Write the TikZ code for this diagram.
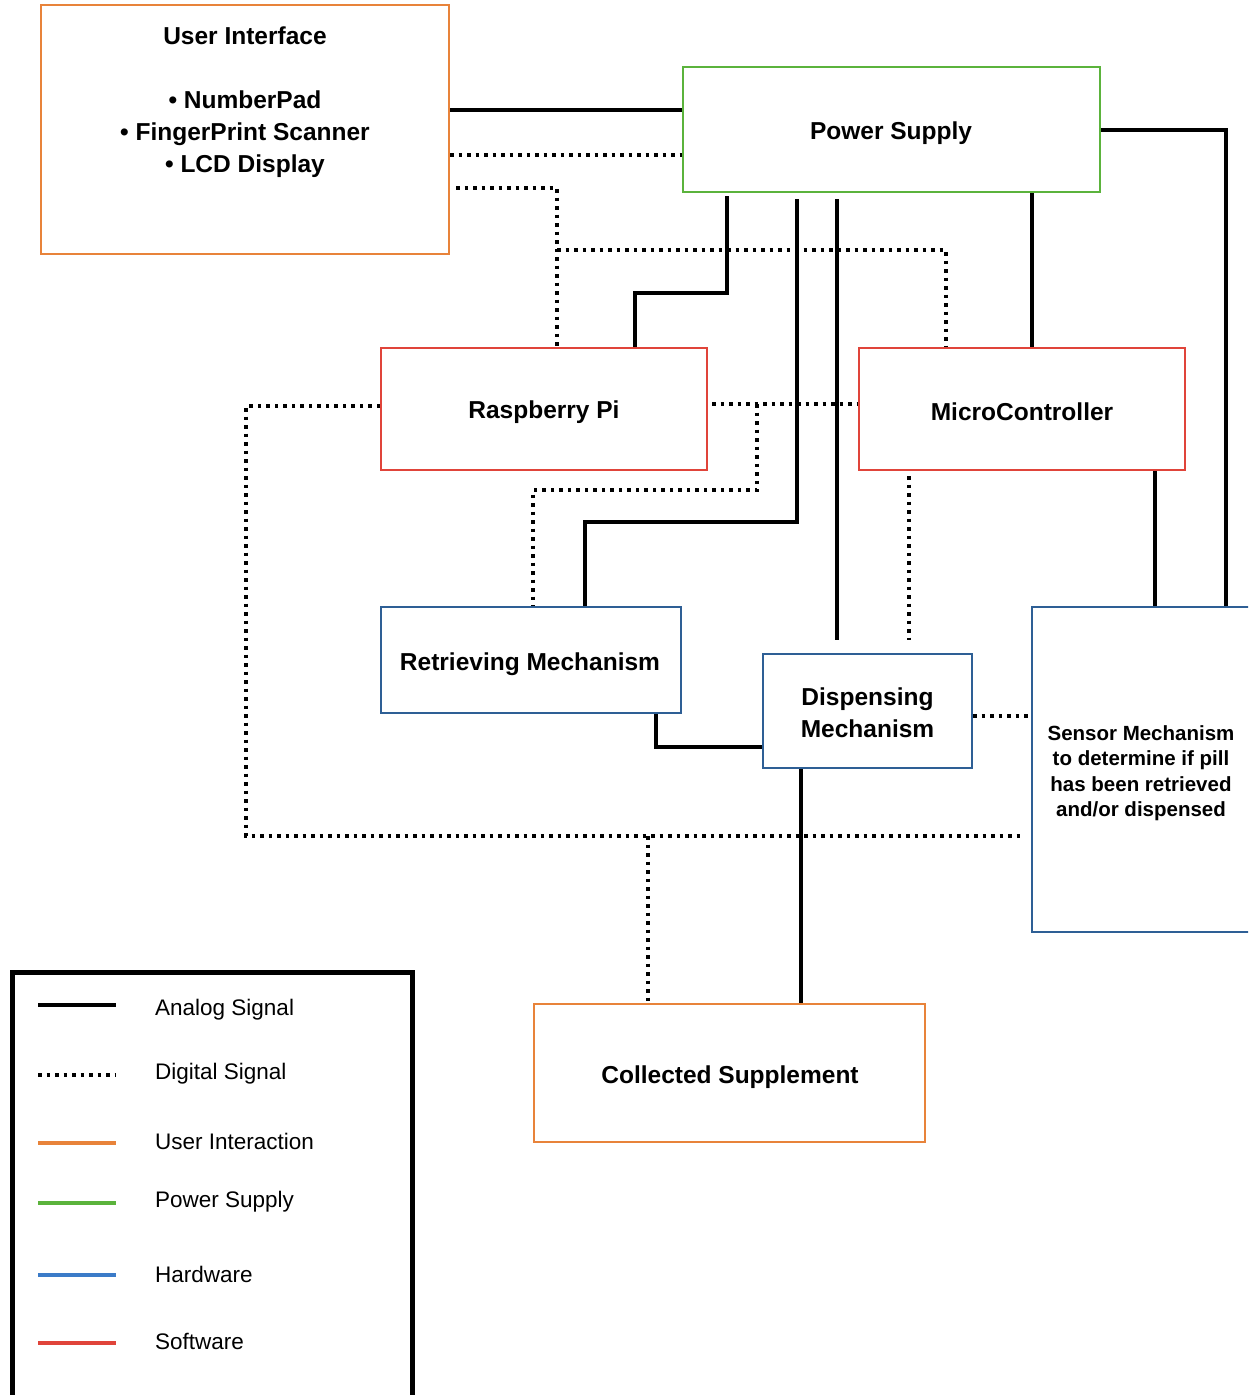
\documentclass[tikz,border=0pt]{standalone}
\usepackage{fontspec}
\setmainfont{Liberation Sans}
\definecolor{cOrange}{HTML}{E8833A}
\definecolor{cGreen}{HTML}{5BB33C}
\definecolor{cRed}{HTML}{E0443A}
\definecolor{cBlue}{HTML}{2E5F95}
\definecolor{cLBlue}{HTML}{3B7BC8}
\begin{document}
\begin{tikzpicture}[x=1pt,y=-1pt,
  box/.style={draw, line width=2pt, inner sep=0pt, align=center,
    font=\bfseries\fontsize{24.5}{32}\selectfont},
  txt/.style={inner sep=0pt, align=center, font=\bfseries\fontsize{24.5}{32}\selectfont},
  analog/.style={line width=4pt},
  digital/.style={line width=3.5pt, dash pattern=on 3.5pt off 5pt},
  legline/.style={line width=4pt},
  legtext/.style={anchor=west, inner sep=0pt, font=\fontsize{22.5}{26}\selectfont}]
\useasboundingbox (0,0) rectangle (1248,1395);
\clip (0,0) rectangle (1248,1395);
\fill[white] (0,0) rectangle (1248,1395);

% boxes
\node[box, draw=cOrange, minimum width=408pt, minimum height=249pt] (ui) at (245,129.5) {};
\node[txt] (uitext) at (245,102) {User Interface\\[32pt]• NumberPad\\• FingerPrint Scanner\\• LCD Display};
\node[box, draw=cGreen, minimum width=417pt, minimum height=125pt] (ps) at (891.5,129.5) {};
\node[txt] (pstext) at (891,133) {Power Supply};
\node[box, draw=cRed, minimum width=326pt, minimum height=122pt] (rpi) at (544,409) {};
\node[txt] (rpitext) at (544,412) {Raspberry Pi};
\node[box, draw=cRed, minimum width=326pt, minimum height=122pt] (mc) at (1022,409) {};
\node[txt] (mctext) at (1022,412) {MicroController};
\node[box, draw=cBlue, minimum width=300pt, minimum height=106pt] (ret) at (531,660) {};
\node[txt] (rettext) at (530,664) {Retrieving Mechanism};
\node[box, draw=cBlue, minimum width=209pt, minimum height=114pt] (disp) at (867.5,711) {};
\node[txt] (disptext) at (867.5,713) {Dispensing\\Mechanism};
\node[box, draw=cBlue, minimum width=232pt, minimum height=325pt] (sensor) at (1148,769.5) {};
\node[txt, font=\bfseries\fontsize{20.5}{25.5}\selectfont] (sensortext) at (1141,773) {Sensor Mechanism\\to determine if pill\\has been retrieved\\and/or dispensed};
\node[box, draw=cOrange, minimum width=391pt, minimum height=138pt] (col) at (729.5,1073) {};
\node[txt] (coltext) at (730,1077) {Collected Supplement};

% helper coordinates
\coordinate (a1) at (566,110);
\coordinate (d1) at (566,155);
\coordinate (d2) at (557,188);
\coordinate (d3) at (557,250);
\coordinate (d3e) at (946,250);
\coordinate (a2) at (727,293);
\coordinate (a2b) at (635,293);
\coordinate (a3) at (797,522);
\coordinate (a3b) at (585,522);
\coordinate (a4) at (837,640);
\coordinate (a5) at (1032,300);
\coordinate (a6) at (1226,129.5);
\coordinate (d4) at (757,404);
\coordinate (d5) at (757,490);
\coordinate (d5b) at (533,490);
\coordinate (d6) at (246,406);
\coordinate (d7) at (246,836);
\coordinate (d8) at (1022,836);
\coordinate (d9) at (909,640);
\coordinate (a7) at (1155,540);
\coordinate (a8) at (656,747);
\coordinate (d10) at (1000,716);
\coordinate (a9) at (801,900);
\coordinate (d11) at (648,836);

% connectors
\draw[analog] (ui.east |- a1) -- (ps.west |- a1);
\draw[digital] (ui.east |- d1) -- (ps.west |- d1);
\draw[digital] ([xshift=6pt]ui.east |- d2) -- (d2) -- (d2 |- rpi.north);
\draw[digital] (d3) -- (d3e) -- (d3e |- mc.north);
\draw[analog] ([yshift=-3pt]ps.south -| a2) -- (a2) -- (a2b) -- (a2b |- rpi.north);
\draw[analog] ([yshift=-6pt]ps.south -| a3) -- (a3) -- (a3b) -- (a3b |- ret.north);
\draw[analog] ([yshift=-6pt]ps.south -| a4) -- (a4);
\draw[analog] (ps.south -| a5) -- (mc.north -| a5);
\draw[analog] (ps.east) -- (a6) -- (a6 |- sensor.north);
\draw[digital] ([xshift=4pt]rpi.east |- d4) -- (mc.west |- d4);
\draw[digital] (d4) -- (d5) -- (d5b) -- (d5b |- ret.north);
\draw[digital] (rpi.west |- d6) -- (d6) -- (d7) -- (d8);
\draw[digital] ([yshift=-5pt]mc.south -| d9) -- (d9);
\draw[analog] (mc.south -| a7) -- (sensor.north -| a7);
\draw[analog] (ret.south -| a8) -- (a8) -- (disp.west |- a8);
\draw[digital] (disp.east |- d10) -- (sensor.west |- d10);
\draw[analog] (disp.south -| a9) -- (col.north -| a9);
\draw[digital] (d11) -- (d11 |- col.north);

% legend
\draw[line width=5pt] (12.5,1400) -- (12.5,972.5) -- (412,972.5) -- (412,1400);
\draw[legline] (38,1005) -- (116,1005);
\draw[digital] (38,1075) -- (116,1075);
\draw[legline, cOrange] (38,1143) -- (116,1143);
\draw[legline, cGreen] (38,1203) -- (116,1203);
\draw[legline, cLBlue] (38,1275) -- (116,1275);
\draw[legline, cRed] (38,1343) -- (116,1343);
\node[legtext] (l1) at (155,1010) {Analog Signal};
\node[legtext] (l2) at (155,1074) {Digital Signal};
\node[legtext] (l3) at (155,1141) {User Interaction};
\node[legtext] (l4) at (155,1202) {Power Supply};
\node[legtext] (l5) at (155,1274) {Hardware};
\node[legtext] (l6) at (155,1341) {Software};
\end{tikzpicture}
\end{document}
